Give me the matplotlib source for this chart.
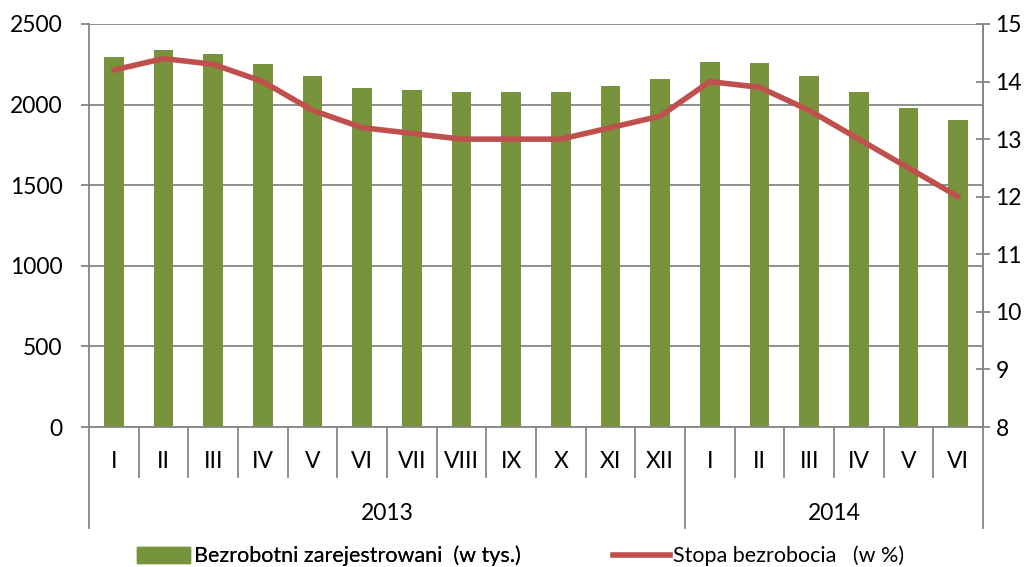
import numpy as np
import matplotlib
matplotlib.use('Agg')
import matplotlib.pyplot as plt
import matplotlib.transforms as mtransforms
from matplotlib.patches import Patch
from matplotlib.lines import Line2D

plt.rcParams['font.family'] = ['Lato', 'DejaVu Sans']

months = ['I', 'II', 'III', 'IV', 'V', 'VI', 'VII', 'VIII', 'IX', 'X', 'XI', 'XII',
          'I', 'II', 'III', 'IV', 'V', 'VI']
years = ['2013', '2014']
year_len = [12, 6]
unemployed = [2295, 2337, 2315, 2254, 2177, 2104, 2089, 2077, 2076, 2077, 2115, 2156,
              2262, 2255, 2180, 2080, 1980, 1906]
rate = [14.2, 14.4, 14.3, 14.0, 13.5, 13.2, 13.1, 13.0, 13.0, 13.0, 13.2, 13.4,
        14.0, 13.9, 13.5, 13.0, 12.5, 12.0]

green = '#77933C'
red = '#C0504D'
gray = '#868686'

fig = plt.figure(figsize=(10.35, 5.67), dpi=100)
W, H = 1035., 567.
x0, x1, ytop, ybot = 89, 983, 24, 427
ax = fig.add_axes([x0 / W, 1 - ybot / H, (x1 - x0) / W, (ybot - ytop) / H])
ax2 = ax.twinx()

x = np.arange(len(months))
ax.bar(x, unemployed, width=0.4, color=green, zorder=2)
ax.set_xlim(-0.5, len(months) - 0.5)
ax.set_ylim(0, 2500)
ax.set_yticks(np.arange(0, 2501, 500))
ax.yaxis.grid(True, color=gray, lw=1.3, zorder=0)
ax.set_axisbelow(True)
ax.set_xticks([])
ax.spines['top'].set_visible(False)
for s in ['left', 'bottom', 'right']:
    ax.spines[s].set_color(gray)
    ax.spines[s].set_linewidth(1.3)
ax.tick_params(axis='y', direction='out', length=6, width=1.3, color=gray,
               labelsize=16.5, pad=13)

ax2.plot(x, rate, color=red, lw=4, solid_capstyle='round', zorder=3)
ax2.set_ylim(8, 15)
ax2.set_yticks(np.arange(8, 16, 1))
ax2.tick_params(axis='y', direction='inout', length=10, width=1.3, color=gray,
                labelsize=16.5, pad=4)
for s in ['top', 'left', 'bottom']:
    ax2.spines[s].set_visible(False)
ax2.spines['right'].set_color(gray)
ax2.spines['right'].set_linewidth(1.3)

# category axis below the plot
trans = mtransforms.blended_transform_factory(ax.transData, ax.transAxes)
ph = ybot - ytop
short = -50 / ph
long_ = -101 / ph
bounds = np.arange(len(months) + 1) - 0.5
year_edges = np.concatenate([[0], np.cumsum(year_len)]) - 0.5
for b in bounds:
    y_end = long_ if b in year_edges else short
    ax.plot([b, b], [0, y_end], color=gray, lw=1.3, transform=trans, clip_on=False)
for i, m in enumerate(months):
    ax.text(i, -34 / ph, m, transform=trans, ha='center', va='center', fontsize=16.5)
for k, yr in enumerate(years):
    mid = (year_edges[k] + year_edges[k + 1]) / 2
    ax.text(mid, -86 / ph, yr, transform=trans, ha='center', va='center', fontsize=16.5)

leg1 = fig.legend([Patch(color=green)], ['Bezrobotni zarejestrowani  (w tys.)'],
                  loc='center left', bbox_to_anchor=(137 / W, 1 - 556 / H),
                  frameon=False, fontsize=15.5, handlelength=2.45, handleheight=0.75,
                  handletextpad=0.2, borderpad=0, borderaxespad=0)
leg2 = fig.legend([Line2D([0], [0], color=red, lw=4)], ['Stopa bezrobocia   (w %)'],
                  loc='center left', bbox_to_anchor=(613 / W, 1 - 556 / H),
                  frameon=False, fontsize=15.5, handlelength=2.65,
                  handletextpad=0.15, borderpad=0, borderaxespad=0)
fig.add_artist(leg1)

fig.savefig('out.png', dpi=100)
